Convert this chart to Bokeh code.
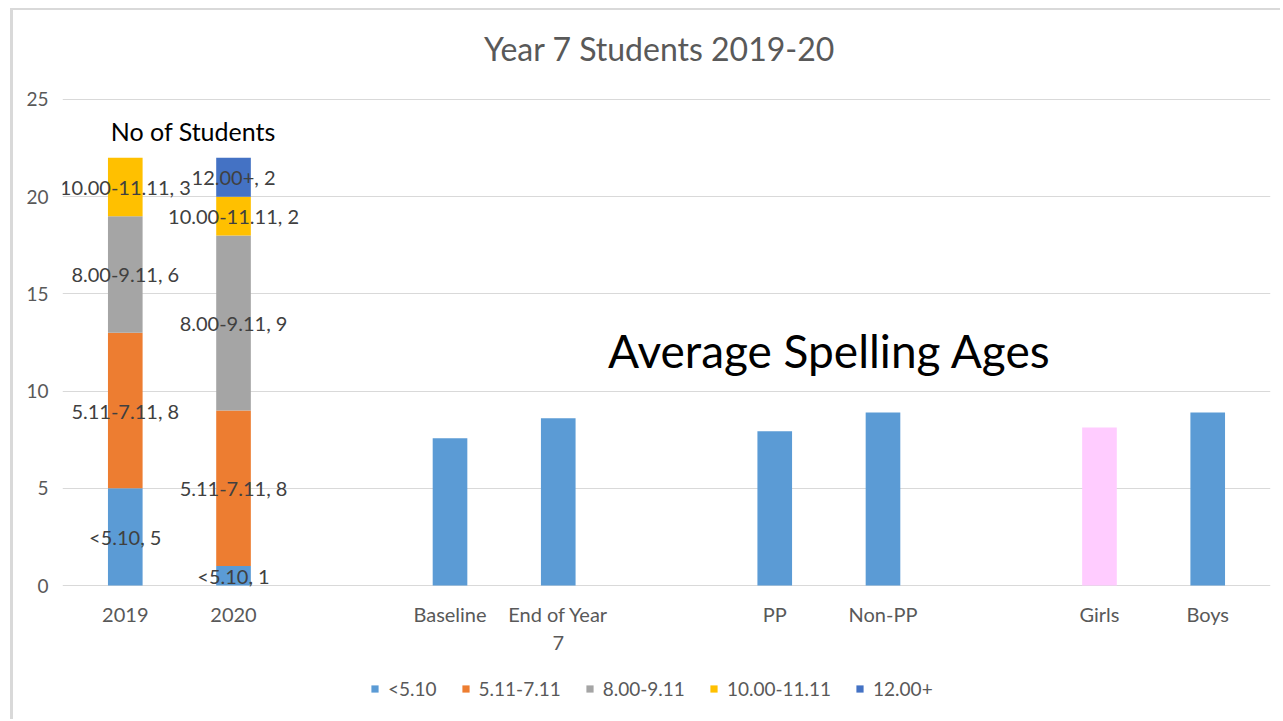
from bokeh.plotting import figure
from bokeh.models import ColumnDataSource, FactorRange, Range1d, Legend, LegendItem, Label
from bokeh.core.properties import value
from bokeh.embed import file_html
from bokeh.resources import INLINE

# ---- data ----
categories = ["2019", "2020", " ", "Baseline", "End of Year\n7", "  ",
              "PP", "Non-PP", "   ", "Girls", "Boys"]
years = ["2019", "2020"]
bands = ["<5.10", "5.11-7.11", "8.00-9.11", "10.00-11.11", "12.00+"]
counts_2019 = [5, 8, 6, 3, 0]
counts_2020 = [1, 8, 9, 2, 2]
avg_groups = ["Baseline", "End of Year\n7", "PP", "Non-PP", "Girls", "Boys"]
avg_ages = [7.58, 8.61, 7.94, 8.90, 8.13, 8.90]
y_ticks = [0, 5, 10, 15, 20, 25]

# ---- styles ----
band_colors = ["#5B9BD5", "#ED7D31", "#A5A5A5", "#FFC000", "#4472C4"]
avg_colors = ["#5B9BD5", "#5B9BD5", "#5B9BD5", "#5B9BD5", "#FFCCFF", "#5B9BD5"]
FONT = value("Lato")
GRAY = "#595959"

# frame spans (almost) the whole canvas so that title/legend can sit inside it;
# the visible value axis runs 0..25
p = figure(x_range=FactorRange(*categories, range_padding=0.08,
                               range_padding_units="absolute"),
           y_range=Range1d(-6.48, 29.32),
           width=1270, height=711,
           min_border_left=49, min_border_right=13,
           min_border_top=5, min_border_bottom=10,
           output_backend="svg", toolbar_location=None)
p.styles = {"border-top": "2px solid #d9d9d9", "border-left": "3px solid #d9d9d9",
            "margin": "8px 0px 0px 10px"}
p.outline_line_color = None
p.xgrid.grid_line_color = None
p.ygrid.grid_line_color = "#d9d9d9"
p.ygrid.grid_line_width = 1

stack_data = {"year": years}
for i, b in enumerate(bands):
    stack_data[b] = [counts_2019[i], counts_2020[i]]
stack_src = ColumnDataSource(stack_data)
stack_rs = p.vbar_stack(bands, x="year", width=0.32, color=band_colors,
                        line_color=None, source=stack_src)

avg_src = ColumnDataSource(dict(group=avg_groups, age=avg_ages, color=avg_colors))
p.vbar(x="group", top="age", width=0.32, fill_color="color", line_color=None,
       source=avg_src)

# data labels centred in each stacked segment
lx, ly, lt = [], [], []
for yr, counts in zip(years, [counts_2019, counts_2020]):
    base = 0
    for b, c in zip(bands, counts):
        if c > 0:
            lx.append(yr)
            ly.append(base + c / 2)
            lt.append(f"{b}, {c}")
        base += c
p.text(x=lx, y=ly, text=lt, text_align="center", text_baseline="middle",
       text_font=FONT, text_font_size="20px", text_color="#404040")

# axes
p.yaxis.ticker = y_ticks
p.yaxis.axis_line_color = None
p.yaxis.major_tick_line_color = None
p.yaxis.minor_tick_line_color = None
p.yaxis.major_label_text_font = "Lato"
p.yaxis.major_label_text_font_size = "19px"
p.yaxis.major_label_text_color = GRAY
p.yaxis.major_label_standoff = 8

p.xaxis.fixed_location = 0
p.xaxis.axis_line_color = None
p.xaxis.major_tick_line_color = None
p.xaxis.minor_tick_line_color = None
p.xaxis.major_label_text_font = "Lato"
p.xaxis.major_label_text_font_size = "20px"
p.xaxis.major_label_text_color = GRAY
p.xaxis.major_label_standoff = 10

# texts
p.add_layout(Label(x=5.435, y=27.62, text="Year 7 Students 2019-20",
                   text_align="center", text_baseline="middle",
                   text_font="Lato", text_font_size="32px", text_color=GRAY))
p.add_layout(Label(x=1.128, y=23.37, text="No of Students",
                   text_align="center", text_baseline="middle",
                   text_font="Lato", text_font_size="25px", text_color="#000000"))
p.add_layout(Label(x=7.007, y=12.09, text="Average Spelling Ages",
                   text_align="center", text_baseline="middle",
                   text_font="Lato", text_font_size="46px", text_color="#000000"))

legend = Legend(items=[LegendItem(label=b, renderers=[r]) for b, r in zip(bands, stack_rs)],
                orientation="horizontal", location=(308, 11),
                padding=0, margin=0, spacing=24, label_standoff=9,
                glyph_width=9, glyph_height=9, label_height=20,
                label_text_font="Lato", label_text_font_size="19px",
                label_text_color=GRAY,
                border_line_alpha=0, background_fill_alpha=0)
p.add_layout(legend, "center")

open("out.html", "w").write(file_html(p, INLINE))
